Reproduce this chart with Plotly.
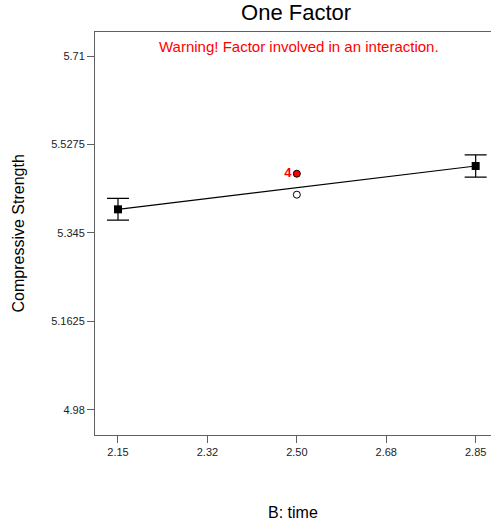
import plotly.graph_objects as go

# Data
x_levels = [2.15, 2.85]
mean_pred = [5.3938, 5.4832]
ci_half = [0.0224, 0.023]

center_x = [2.5]
center_open_y = [5.424]
center_red_y = [5.4673]
center_red_label = ["4"]

x_tick_vals = [2.15, 2.325, 2.5, 2.675, 2.85]
x_tick_text = ["2.15", "2.32", "2.50", "2.68", "2.85"]
y_tick_vals = [4.98, 5.1625, 5.345, 5.5275, 5.71]
y_tick_text = ["4.98", "5.1625", "5.345", "5.5275", "5.71"]

FONT = "Liberation Sans, Arial, sans-serif"
AXC = "#606060"

fig = go.Figure()

fig.add_trace(go.Scatter(
    x=x_levels, y=mean_pred, mode="lines",
    line=dict(color="black", width=1.2), hoverinfo="skip", showlegend=False))

fig.add_trace(go.Scatter(
    x=x_levels, y=mean_pred, mode="markers",
    marker=dict(symbol="square", size=8, color="black"),
    error_y=dict(type="data", array=ci_half, color="black", thickness=1.2, width=11),
    showlegend=False))

fig.add_trace(go.Scatter(
    x=center_x, y=center_open_y, mode="markers",
    marker=dict(symbol="circle-open", size=7, color="black", line=dict(width=1)),
    showlegend=False))

fig.add_trace(go.Scatter(
    x=center_x, y=center_red_y, mode="markers+text",
    marker=dict(symbol="circle", size=7, color="red", line=dict(color="black", width=1)),
    text=center_red_label, textposition="middle left",
    textfont=dict(color="red", size=13, family=FONT, weight="bold"),
    showlegend=False))

fig.update_layout(
    width=491, height=527,
    margin=dict(l=95, r=0, t=32, b=92),
    paper_bgcolor="white", plot_bgcolor="white",
    font=dict(family=FONT, color="black"),
    title=dict(text="One Factor", x=0.603, xanchor="center", y=0.977, yanchor="middle",
               font=dict(size=22, family=FONT, color="black")),
    xaxis=dict(range=[2.105, 2.88], tickvals=x_tick_vals, ticktext=x_tick_text,
               showgrid=False, zeroline=False, showline=True, linecolor=AXC, linewidth=1,
               mirror=True, ticks="outside", ticklen=7, tickcolor=AXC,
               tickfont=dict(size=11, family=FONT, color="#222")),
    yaxis=dict(range=[4.9284, 5.7595], tickvals=y_tick_vals, ticktext=y_tick_text,
               showgrid=False, zeroline=False, showline=True, linecolor=AXC, linewidth=1,
               mirror=False, ticks="outside", ticklen=7, tickcolor=AXC,
               tickfont=dict(size=11, family=FONT, color="#222")),
    annotations=[
        dict(text="Warning! Factor involved in an interaction.", xref="paper", yref="paper",
             x=0.516, y=1.0, yshift=-14, xanchor="center", yanchor="middle", showarrow=False,
             font=dict(size=15, color="red", family=FONT)),
        dict(text="B: time", xref="paper", yref="paper", x=0.5, y=0, yshift=-77,
             xanchor="center", yanchor="middle", showarrow=False,
             font=dict(size=16, family=FONT, color="black")),
        dict(text="Compressive Strength", xref="paper", yref="paper", x=0, xshift=-77,
             y=0.5, xanchor="center", yanchor="middle", textangle=-90, showarrow=False,
             font=dict(size=16, family=FONT, color="black")),
    ],
)

fig.write_html("out.html", config={"displayModeBar": False},
               post_script="document.body.style.margin='0';document.body.style.overflow='hidden';")
